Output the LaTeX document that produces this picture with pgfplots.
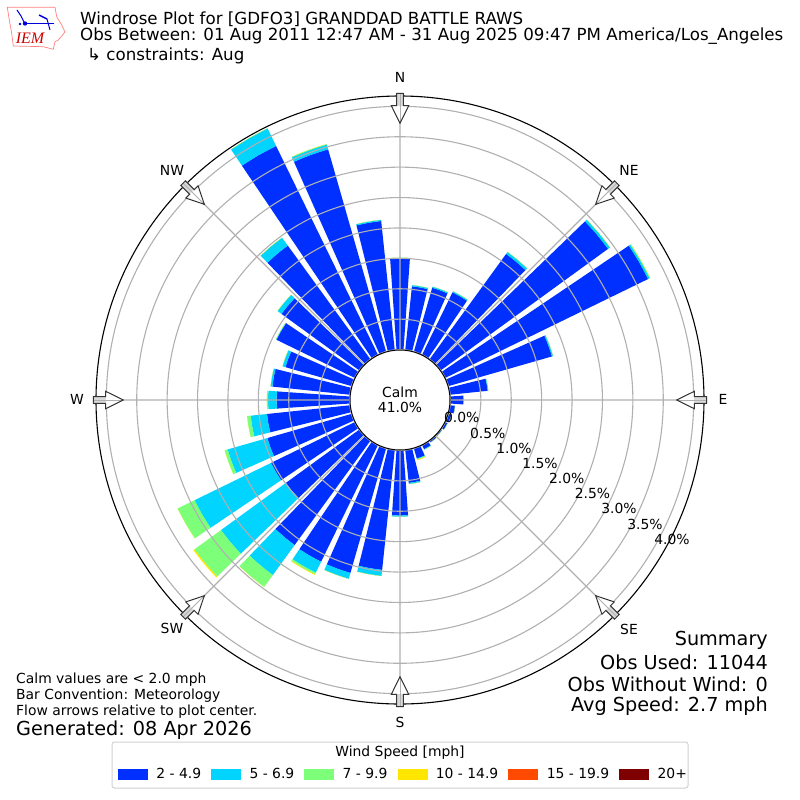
\documentclass[border=0pt]{standalone}
\usepackage{pgfplots}
\usepackage{fontspec}
\setmainfont{DejaVu Sans}
\newfontfamily\logofont{Liberation Serif}
\usepgfplotslibrary{polar}
\pgfplotsset{compat=1.18}
\definecolor{cA}{HTML}{0030FF}
\definecolor{cB}{HTML}{00D4FF}
\definecolor{cC}{HTML}{7DFF7A}
\definecolor{cD}{HTML}{FFE600}
\definecolor{cE}{HTML}{FF4A00}
\definecolor{cF}{HTML}{7F0000}
\definecolor{gridc}{HTML}{B0B0B0}
% one stacked segment of the bar at bearing \rb
\newcommand\seg[3]{%
  \pgfmathsetmacro\ra{0.83+#1}\pgfmathsetmacro\rb{0.83+#2}%
  \addplot[fill=#3,draw=none,forget plot] coordinates {(\aL,\ra)(\aM,\ra)(\aR,\ra)(\aR,\rb)(\aN,\rb)(\aC,\rb)(\aK,\rb)(\aL,\rb)};%
}
% bearing, then cumulative top of the speed classes [%]
\newcommand\rose[5]{%
  \pgfmathsetmacro\aC{90-#1}\pgfmathsetmacro\aL{\aC-4}\pgfmathsetmacro\aR{\aC+4}%
  \pgfmathsetmacro\aM{\aC}\pgfmathsetmacro\aK{\aC-2}\pgfmathsetmacro\aN{\aC+2}%
  \seg{0}{#2}{cA}\seg{#2}{#3}{cB}\seg{#3}{#4}{cC}\seg{#4}{#5}{cD}%
}
\newcommand\fs[1]{\fontsize{#1}{#1}\selectfont}
\newcommand\compass[1]{%
  \begin{scope}[shift={(400,400)},rotate=#1]
    \fill[white] (276.7pt,0pt)--(294.3pt,8.7pt)--(294.3pt,3.3pt)--(306.7pt,3.3pt)--(306.7pt,-3.3pt)--(294.3pt,-3.3pt)--(294.3pt,-8.7pt)--cycle;
    \fill[black!15] (294.3pt,3.3pt)--(306.7pt,3.3pt)--(306.7pt,-3.3pt)--(294.3pt,-3.3pt)--cycle;
    \draw[gridc,line width=1pt] (276.7pt,0pt)--(306.7pt,0pt);
    \draw[black!80,line width=1pt,line join=miter] (276.7pt,0pt)--(294.3pt,8.7pt)--(294.3pt,3.3pt)--(306.7pt,3.3pt)--(306.7pt,-3.3pt)--(294.3pt,-3.3pt)--(294.3pt,-8.7pt)--cycle;
  \end{scope}}
\begin{document}
\begin{tikzpicture}[x=1pt,y=-1pt]
\path (0,0) rectangle (800,800);
% legend frame
\draw[black!18,line width=1pt,rounded corners=2.5pt,fill=white] (112,742) rectangle (688,788);
\begin{polaraxis}[
  at={(96pt,-704pt)},anchor=south west,
  scale only axis,width=608pt,height=608pt,
  ymin=0,ymax=5,
  xtick={0,45,...,315},
  ytick={0.83,1.33,1.83,2.33,2.83,3.33,3.83,4.33,4.83},
  xticklabels={},yticklabels={},
  major tick length=0pt,
  grid=major,
  grid style={gridc,line width=1.1pt},
  separate axis lines,
  x axis line style={black,line width=1.1pt},
  y axis line style={draw=none},
  axis on top,
  legend columns=6,
  legend cell align=left,
  legend image code/.code={\fill[#1] (0pt,-5pt) rectangle (29pt,4.5pt);},
  legend style={at={(axis description cs:0.0362,-0.115)},anchor=west,draw=none,fill=none,
    font=\fs{13.89},inner sep=0pt,outer sep=0pt,
    /tikz/every odd column/.append style={column sep=7pt},
    /tikz/every even column/.append style={column sep=8pt}},
]
\rose{0}{1.50}{1.51}{1.51}{1.51}
\rose{10}{1.05}{1.07}{1.07}{1.07}
\rose{20}{1.09}{1.11}{1.11}{1.11}
\rose{30}{1.14}{1.16}{1.16}{1.16}
\rose{40}{2.14}{2.18}{2.18}{2.18}
\rose{50}{3.40}{3.44}{3.44}{3.44}
\rose{60}{3.71}{3.74}{3.75}{3.75}
\rose{70}{1.77}{1.79}{1.79}{1.79}
\rose{80}{0.62}{0.63}{0.63}{0.63}
\rose{90}{0.21}{0.22}{0.22}{0.22}
\rose{100}{0.08}{0.08}{0.08}{0.08}
\rose{110}{0.05}{0.05}{0.05}{0.05}
\rose{120}{0.04}{0.04}{0.04}{0.04}
\rose{130}{0.02}{0.02}{0.02}{0.02}
\rose{140}{0.03}{0.03}{0.03}{0.03}
\rose{150}{0.07}{0.08}{0.08}{0.08}
\rose{160}{0.17}{0.18}{0.19}{0.20}
\rose{170}{0.54}{0.56}{0.56}{0.56}
\rose{180}{1.07}{1.09}{1.09}{1.09}
\rose{190}{1.98}{2.08}{2.08}{2.08}
\rose{200}{2.13}{2.23}{2.23}{2.23}
\rose{210}{2.13}{2.33}{2.36}{2.37}
\rose{220}{2.12}{2.73}{2.97}{2.97}
\rose{230}{1.49}{2.81}{3.35}{3.37}
\rose{240}{1.53}{2.93}{3.24}{3.24}
\rose{250}{1.44}{2.12}{2.17}{2.17}
\rose{260}{1.37}{1.64}{1.70}{1.70}
\rose{270}{1.20}{1.34}{1.36}{1.36}
\rose{280}{1.28}{1.31}{1.31}{1.31}
\rose{290}{1.13}{1.18}{1.18}{1.18}
\rose{300}{1.43}{1.44}{1.44}{1.44}
\rose{310}{1.58}{1.66}{1.66}{1.66}
\rose{320}{2.31}{2.47}{2.47}{2.47}
\rose{330}{3.82}{4.14}{4.14}{4.14}
\rose{340}{3.46}{3.54}{3.55}{3.55}
\rose{350}{2.13}{2.15}{2.15}{2.15}
\addlegendimage{cA}\addlegendentry{2 - 4.9}
\addlegendimage{cB}\addlegendentry{5 - 6.9}
\addlegendimage{cC}\addlegendentry{7 - 9.9}
\addlegendimage{cD}\addlegendentry{10 - 14.9}
\addlegendimage{cE}\addlegendentry{15 - 19.9}
\addlegendimage{cF}\addlegendentry{20+}
\end{polaraxis}
% centre
\draw[black,line width=1pt,fill=white] (400,400) circle (50pt);
\node[font=\fs{13.89},align=center] at (400,392) {Calm};
\node[font=\fs{13.89},align=center] at (400,407) {41.0\%};
% compass arrows
\foreach \t in {0,45,...,315}{\compass{\t}}
% direction labels
\begin{scope}[every node/.style={font=\fs{13.89}}]
\node at (400,77) {N};
\node at (629,170) {NE};
\node at (723,399) {E};
\node at (629,629) {SE};
\node at (400,722) {S};
\node at (172,628) {SW};
\node at (77,399) {W};
\node at (172,170) {NW};
\node at (461.7,417.3) {0.0\%};
\node at (487.7,433.3) {0.5\%};
\node at (514,448.3) {1.0\%};
\node at (540,463.3) {1.5\%};
\node at (566.7,478.3) {2.0\%};
\node at (592.5,493.3) {2.5\%};
\node at (619,508.3) {3.0\%};
\node at (645,524) {3.5\%};
\node at (672,539.3) {4.0\%};
\end{scope}
% titles
\node[anchor=west,inner sep=0pt,font=\fs{16.67}] at (80,19) {Windrose Plot for [GDFO3] GRANDDAD BATTLE RAWS};
\node[anchor=west,inner sep=0pt,font=\fs{16.67}] at (80,36) {Obs Between: 01 Aug 2011 12:47 AM - 31 Aug 2025 09:47 PM America/Los\_Angeles};
\node[anchor=west,inner sep=0pt,font=\fs{16.67}] at (87,56) {↳ constraints: Aug};
% notes
\node[anchor=west,inner sep=0pt,font=\fs{13.89}] at (16,680) {Calm values are < 2.0 mph};
\node[anchor=west,inner sep=0pt,font=\fs{13.89}] at (16,696) {Bar Convention: Meteorology};
\node[anchor=west,inner sep=0pt,font=\fs{13.89}] at (16,712) {Flow arrows relative to plot center.};
\node[anchor=west,inner sep=0pt,font=\fs{19.25}] at (16,730) {Generated: 08 Apr 2026};
\node[anchor=east,inner sep=0pt,font=\fs{19.25}] at (768,640) {Summary};
\node[anchor=east,inner sep=0pt,font=\fs{19.25}] at (768,662) {Obs Used: 11044};
\node[anchor=east,inner sep=0pt,font=\fs{19.25}] at (768,684) {Obs Without Wind: 0};
\node[anchor=east,inner sep=0pt,font=\fs{19.25}] at (768,706) {Avg Speed: 2.7 mph};
\node[font=\fs{13.89}] at (400,753) {Wind Speed [mph]};
% logo
\draw[red!50!white,line width=0.7pt,line join=round] (7.3,7.3)--(55,7.3)--(56.7,16.7)--(61.7,25)--(65,32)--(58.3,40)--(55,41.7)--(53.3,49.3)--(43.3,46.7)--(13.3,46)--(11.7,33.3)--(9.3,20)--cycle;
\node[text=red!80!black,font=\logofont\itshape\fs{16},inner sep=0pt] at (30,38.5) {IEM};
\draw[blue!85!black,line width=1.4pt] (25,23.5)--(54,23.5);
\fill[blue!85!black] (25,23.5) circle (2.2pt);
\draw[blue!85!black,line width=1pt] (17,10)--(21,16)--(24,22);
\draw[blue!85!black,line width=1.5pt] (39,15)--(47,19);
\draw[blue!85!black,line width=1pt] (47,19)--(50,30);
\fill[blue!85!black] (20,24) circle (1.3pt);
\end{tikzpicture}
\end{document}
